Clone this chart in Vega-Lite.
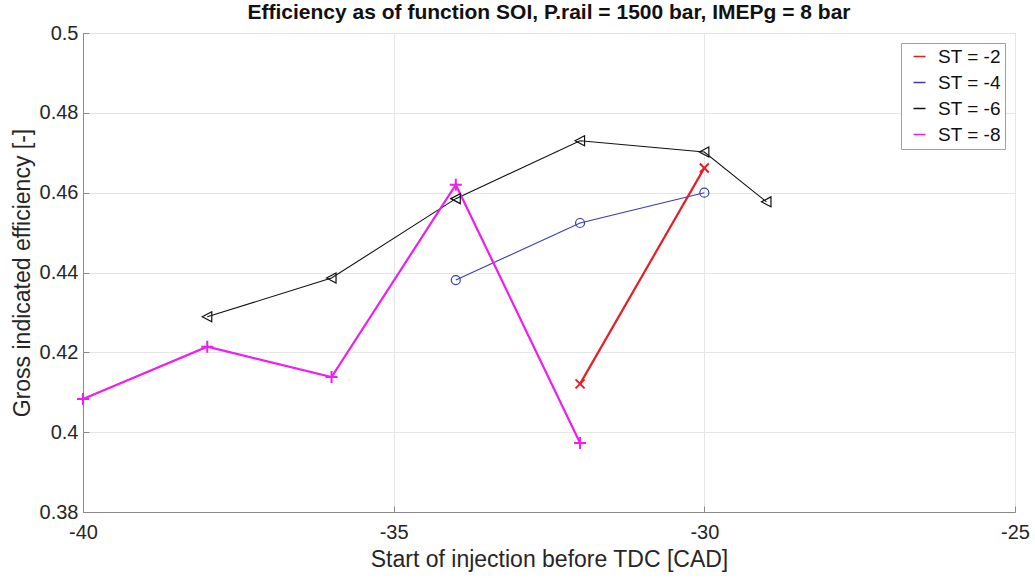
{
 "$schema": "https://vega.github.io/schema/vega-lite/v6.json",
 "width": 932,
 "height": 479,
 "autosize": {"type": "none"},
 "padding": {"left": 83, "top": 33, "right": 20, "bottom": 66},
 "background": "white",
 "title": {"text": "Efficiency as of function SOI, P.rail = 1500 bar, IMEPg = 8 bar", "fontSize": 21, "font": "Liberation Sans", "fontWeight": "bold", "color": "#111", "offset": 0, "anchor": "middle"},
 "config": {
  "view": {"stroke": "#8a8a8a", "strokeWidth": 1},
  "axis": {"labelFont": "Liberation Sans", "titleFont": "Liberation Sans", "labelFontSize": 20, "titleFontSize": 23, "titleFontWeight": "normal", "labelColor": "#262626", "titleColor": "#262626", "gridColor": "#e6e6e6", "domainColor": "#8a8a8a", "tickColor": "#8a8a8a", "tickSize": -6, "labelFlush": false},
  "legend": {"labelFont": "Liberation Sans", "labelFontSize": 19, "labelColor": "#111"}
 },
 "data": {"values": [
  {"soi": -32, "eff": 0.4121, "st": "ST = -2"},
  {"soi": -30, "eff": 0.4662, "st": "ST = -2"},
  {"soi": -34, "eff": 0.4381, "st": "ST = -4"},
  {"soi": -32, "eff": 0.4524, "st": "ST = -4"},
  {"soi": -30, "eff": 0.4600, "st": "ST = -4"},
  {"soi": -38, "eff": 0.4289, "st": "ST = -6"},
  {"soi": -36, "eff": 0.4386, "st": "ST = -6"},
  {"soi": -34, "eff": 0.4585, "st": "ST = -6"},
  {"soi": -32, "eff": 0.4730, "st": "ST = -6"},
  {"soi": -30, "eff": 0.4702, "st": "ST = -6"},
  {"soi": -29, "eff": 0.4577, "st": "ST = -6"},
  {"soi": -40, "eff": 0.4083, "st": "ST = -8"},
  {"soi": -38, "eff": 0.4214, "st": "ST = -8"},
  {"soi": -36, "eff": 0.4138, "st": "ST = -8"},
  {"soi": -34, "eff": 0.4620, "st": "ST = -8"},
  {"soi": -32, "eff": 0.3973, "st": "ST = -8"}
 ]},
 "encoding": {
  "x": {"field": "soi", "type": "quantitative", "scale": {"domain": [-40, -25], "nice": false, "zero": false},
   "axis": {"values": [-40, -35, -30, -25], "title": "Start of injection before TDC [CAD]", "labelExpr": "toString(datum.value)", "labelPadding": 16, "titlePadding": 6}},
  "y": {"field": "eff", "type": "quantitative", "scale": {"domain": [0.38, 0.5], "nice": false, "zero": false},
   "axis": {"values": [0.38, 0.4, 0.42, 0.44, 0.46, 0.48, 0.5], "title": "Gross indicated efficiency [-]", "labelExpr": "toString(datum.value)", "labelPadding": 11, "titlePadding": 5}}
 },
 "layer": [
  {"transform": [{"filter": "datum.st === 'ST = -4' || datum.st === 'ST = -6'"}],
   "mark": {"type": "line", "strokeWidth": 1.1},
   "encoding": {"color": {"field": "st", "type": "nominal", "title": null, "scale": {"domain": ["ST = -2", "ST = -4", "ST = -6", "ST = -8"], "range": ["#e41f26", "#3b3bb3", "#111111", "#f01cf0"]}}}},
  {"transform": [{"filter": "datum.st === 'ST = -2' || datum.st === 'ST = -8'"}],
   "mark": {"type": "line", "strokeWidth": 2.2},
   "encoding": {"color": {"field": "st", "type": "nominal", "title": null}}},
  {"transform": [{"filter": "datum.st === 'ST = -4'"}],
   "mark": {"type": "point", "filled": false, "size": 100, "opacity": 1, "strokeWidth": 1.2, "shape": "M0.9,0A0.9,0.9 0 1,1 -0.9,0A0.9,0.9 0 1,1 0.9,0Z"},
   "encoding": {"color": {"field": "st", "type": "nominal", "title": null}}},
  {"transform": [{"filter": "datum.st === 'ST = -6'"}],
   "mark": {"type": "point", "filled": false, "size": 100, "opacity": 1, "strokeWidth": 1.2, "shape": "M-1,0L0.9,-1L0.9,1Z"},
   "encoding": {"color": {"field": "st", "type": "nominal", "title": null}}},
  {"transform": [{"filter": "datum.st === 'ST = -8'"}],
   "mark": {"type": "point", "filled": false, "size": 100, "opacity": 1, "strokeWidth": 2, "shape": "M-1.2,0L1.2,0M0,-1.2L0,1.2"},
   "encoding": {"color": {"field": "st", "type": "nominal", "title": null}}},
  {"transform": [{"filter": "datum.st === 'ST = -2'"}],
   "mark": {"type": "point", "filled": false, "size": 100, "opacity": 1, "strokeWidth": 2, "shape": "M-0.9,-0.9L0.9,0.9M-0.9,0.9L0.9,-0.9"},
   "encoding": {"color": {"field": "st", "type": "nominal", "title": null,
    "legend": {"orient": "top-right", "offset": 10, "padding": 4, "strokeColor": "#a0a0a0", "fillColor": "white", "symbolSize": 144, "rowPadding": 6, "labelOffset": 9, "symbolOffset": 5, "symbolStrokeWidth": 1.5,
     "encode": {"symbols": {"shape": {"value": {"expr": "datum.value === 'ST = -2' ? 'M-2,0L2,0M-0.6,-0.6L0.6,0.6M-0.6,0.6L0.6,-0.6' : datum.value === 'ST = -4' ? 'M-2,0L2,0M0.6,0A0.6,0.6 0 1,1 -0.6,0A0.6,0.6 0 1,1 0.6,0' : datum.value === 'ST = -6' ? 'M-2,0L2,0M-0.7,0L0.6,-0.6L0.6,0.6Z' : 'M-2,0L2,0M0,-0.8L0,0.8'"}}}}}}}
  }
 ]
}
